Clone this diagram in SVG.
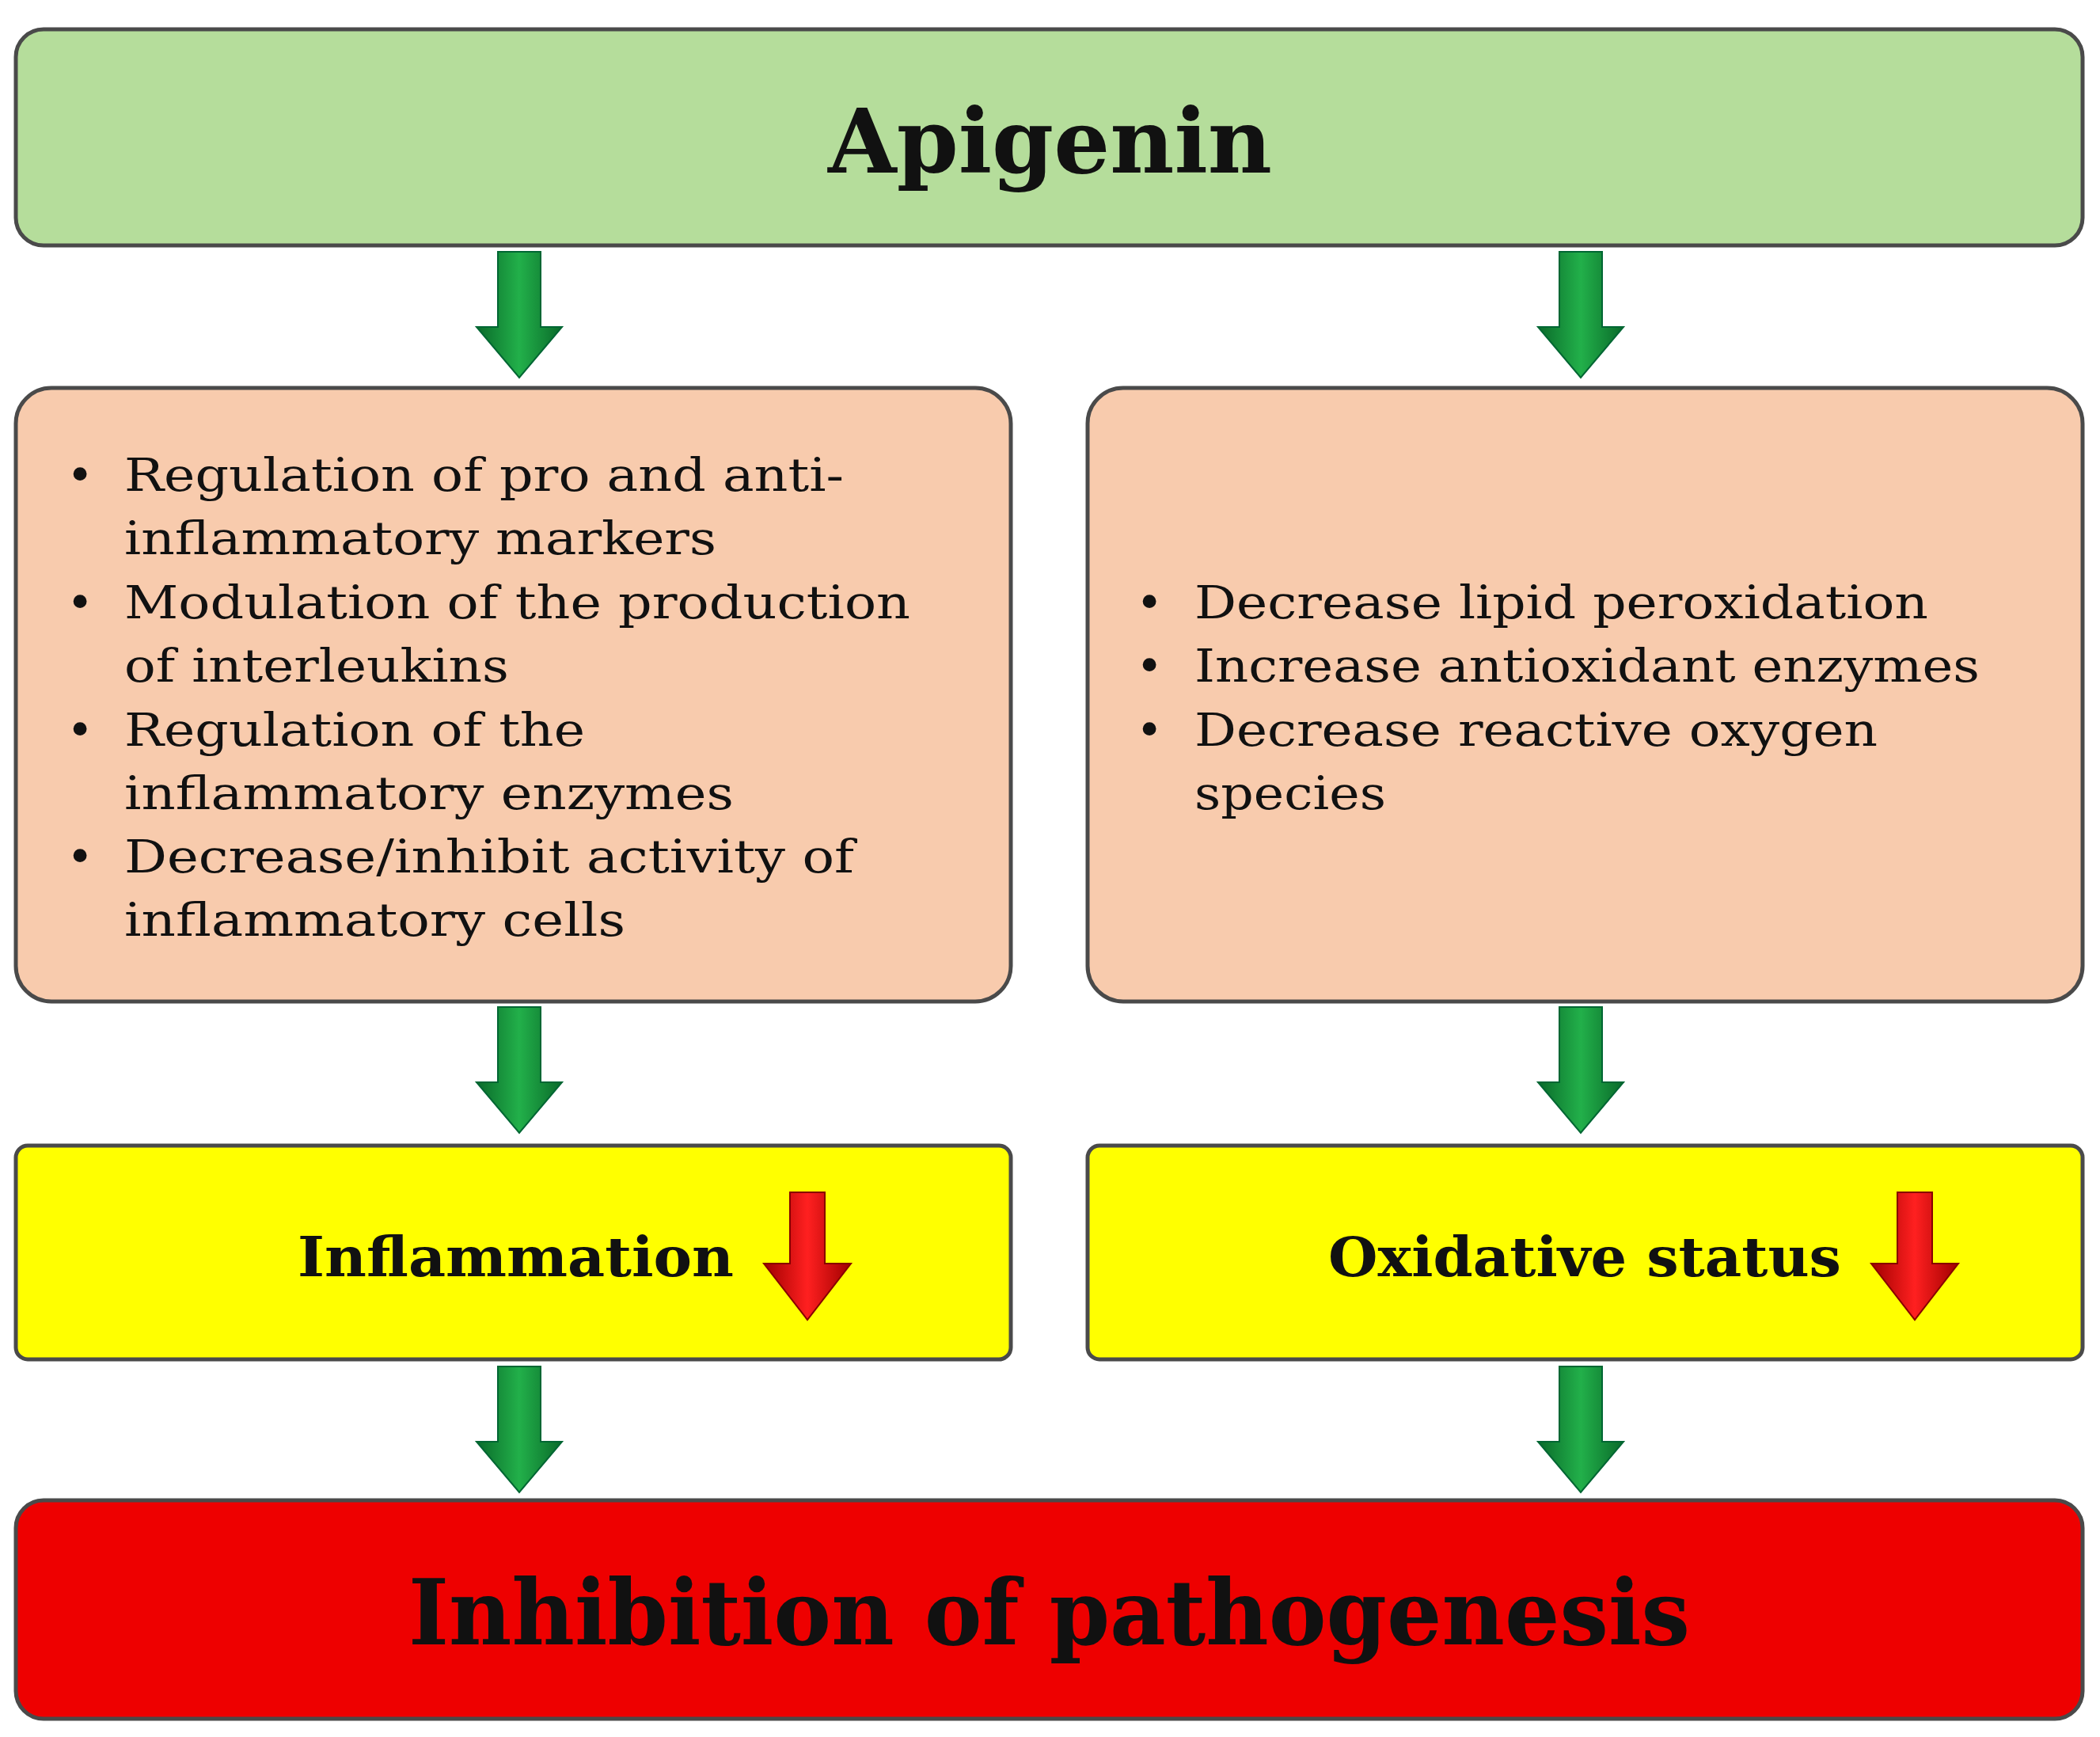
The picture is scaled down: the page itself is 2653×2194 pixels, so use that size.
<svg xmlns="http://www.w3.org/2000/svg" width="2653" height="2194" viewBox="0 0 2653 2194">
<style>
.box{stroke:#4a4a4a;stroke-width:5}
.t{font-family:"DejaVu Serif","Liberation Serif",serif;fill:#111}
.b{font-size:58px}
.h{font-weight:bold}
</style>
<defs>
<linearGradient id="ga" x1="0" y1="0" x2="1" y2="0"><stop offset="0" stop-color="#0a6a2a"/><stop offset="0.5" stop-color="#22b04a"/><stop offset="1" stop-color="#0a6a2a"/></linearGradient>
<linearGradient id="ra" x1="0" y1="0" x2="1" y2="0"><stop offset="0" stop-color="#a00000"/><stop offset="0.5" stop-color="#ff2020"/><stop offset="1" stop-color="#a00000"/></linearGradient>
<g id="garrow"><path d="M-27,0 H27 V95 H54 L0,159 L-54,95 H-27 Z" fill="url(#ga)" stroke="#063" stroke-width="2"/></g>
<g id="rarrow"><path d="M-22,0 H22 V90 H55 L0,161 L-55,90 H-22 Z" fill="url(#ra)" stroke="#800" stroke-width="2"/></g>
</defs>
<rect width="2653" height="2194" fill="#fff"/>
<g id="apigenin"><rect class="box" x="20" y="37" width="2611" height="273" rx="35" fill="#b5dd9b"/>
<text class="t h" x="1046" y="218" font-size="112" textLength="561" lengthAdjust="spacingAndGlyphs">Apigenin</text></g>
<g id="inflam-box"><rect class="box" x="20" y="490" width="1257" height="775" rx="45" fill="#f8cbad"/>
<g class="t b">
<text x="84" y="620">•</text><text x="157" y="620" textLength="909" lengthAdjust="spacingAndGlyphs">Regulation of pro and anti-</text>
<text x="157" y="700" textLength="748" lengthAdjust="spacingAndGlyphs">inflammatory markers</text>
<text x="84" y="781">•</text><text x="157" y="781" textLength="993" lengthAdjust="spacingAndGlyphs">Modulation of the production</text>
<text x="157" y="861" textLength="486" lengthAdjust="spacingAndGlyphs">of interleukins</text>
<text x="84" y="942">•</text><text x="157" y="942" textLength="582" lengthAdjust="spacingAndGlyphs">Regulation of the</text>
<text x="157" y="1022" textLength="770" lengthAdjust="spacingAndGlyphs">inflammatory enzymes</text>
<text x="84" y="1102">•</text><text x="157" y="1102" textLength="922" lengthAdjust="spacingAndGlyphs">Decrease/inhibit activity of</text>
<text x="157" y="1182" textLength="633" lengthAdjust="spacingAndGlyphs">inflammatory cells</text></g></g>
<g id="oxid-box"><rect class="box" x="1374" y="490" width="1257" height="775" rx="45" fill="#f8cbad"/>
<g class="t b">
<text x="1435" y="781">•</text><text x="1509" y="781" textLength="927" lengthAdjust="spacingAndGlyphs">Decrease lipid peroxidation</text>
<text x="1435" y="861">•</text><text x="1509" y="861" textLength="992" lengthAdjust="spacingAndGlyphs">Increase antioxidant enzymes</text>
<text x="1435" y="942">•</text><text x="1509" y="942" textLength="863" lengthAdjust="spacingAndGlyphs">Decrease reactive oxygen</text>
<text x="1509" y="1022" textLength="242" lengthAdjust="spacingAndGlyphs">species</text></g></g>
<g id="inflammation"><rect class="box" x="20" y="1447" width="1257" height="270" rx="15" fill="#ffff00"/>
<text class="t h" x="376" y="1612" font-size="70" textLength="551" lengthAdjust="spacingAndGlyphs">Inflammation</text>
<use href="#rarrow" x="1020" y="1506"/></g>
<g id="oxidative"><rect class="box" x="1374" y="1447" width="1257" height="270" rx="15" fill="#ffff00"/>
<text class="t h" x="1678" y="1612" font-size="70" textLength="648" lengthAdjust="spacingAndGlyphs">Oxidative status</text>
<use href="#rarrow" x="2419" y="1506"/></g>
<g id="inhibition"><rect class="box" x="20" y="1895" width="2611" height="276" rx="35" fill="#ee0000"/>
<text class="t h" x="516" y="2077" font-size="115" textLength="1619" lengthAdjust="spacingAndGlyphs">Inhibition of pathogenesis</text></g>
<g id="connectors">
<use href="#garrow" x="656" y="318"/><use href="#garrow" x="1997" y="318"/>
<use href="#garrow" x="656" y="1272"/><use href="#garrow" x="1997" y="1272"/>
<use href="#garrow" x="656" y="1726"/><use href="#garrow" x="1997" y="1726"/>
</g>
</svg>
